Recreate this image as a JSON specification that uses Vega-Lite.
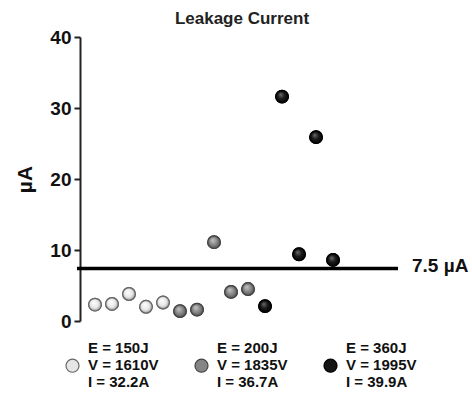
{
  "$schema": "https://vega.github.io/schema/vega-lite/v6.json",
  "width": 318,
  "height": 284,
  "autosize": "none",
  "padding": {"left": 80, "top": 37, "right": 74, "bottom": 73},
  "background": "white",
  "title": {"text": "Leakage Current", "font": "Liberation Sans", "fontSize": 17, "fontWeight": "bold", "color": "#222", "anchor": "middle", "offset": 0, "dx": 3},
  "config": {"view": {"stroke": null}},
  "datasets": {
    "pts": [
      {"idx": 1, "value": 2.3, "group": "E = 150J|V = 1610V|I = 32.2A"},
      {"idx": 2, "value": 2.4, "group": "E = 150J|V = 1610V|I = 32.2A"},
      {"idx": 3, "value": 3.8, "group": "E = 150J|V = 1610V|I = 32.2A"},
      {"idx": 4, "value": 2.0, "group": "E = 150J|V = 1610V|I = 32.2A"},
      {"idx": 5, "value": 2.6, "group": "E = 150J|V = 1610V|I = 32.2A"},
      {"idx": 6, "value": 1.4, "group": "E = 200J|V = 1835V|I = 36.7A"},
      {"idx": 7, "value": 1.6, "group": "E = 200J|V = 1835V|I = 36.7A"},
      {"idx": 8, "value": 11.1, "group": "E = 200J|V = 1835V|I = 36.7A"},
      {"idx": 9, "value": 4.1, "group": "E = 200J|V = 1835V|I = 36.7A"},
      {"idx": 10, "value": 4.5, "group": "E = 200J|V = 1835V|I = 36.7A"},
      {"idx": 11, "value": 2.1, "group": "E = 360J|V = 1995V|I = 39.9A"},
      {"idx": 12, "value": 31.6, "group": "E = 360J|V = 1995V|I = 39.9A"},
      {"idx": 13, "value": 9.4, "group": "E = 360J|V = 1995V|I = 39.9A"},
      {"idx": 14, "value": 25.9, "group": "E = 360J|V = 1995V|I = 39.9A"},
      {"idx": 15, "value": 8.6, "group": "E = 360J|V = 1995V|I = 39.9A"}
    ],
    "thr": [{"x0": -0.06, "x1": 18.82, "value": 7.4, "label": "7.5 µA"}]
  },
  "encoding": {
    "x": {"type": "quantitative", "scale": {"domain": [0.118, 18.82], "nice": false, "zero": false}, "axis": null},
    "y": {"type": "quantitative", "scale": {"domain": [0, 40], "nice": false}}
  },
  "layer": [
    {
      "data": {"name": "thr"},
      "mark": {"type": "rule", "strokeWidth": 3.5, "color": "#000", "clip": false},
      "encoding": {
        "x": {"field": "x0", "type": "quantitative"},
        "x2": {"field": "x1"},
        "y": {"field": "value", "type": "quantitative"}
      }
    },
    {
      "data": {"name": "thr"},
      "mark": {"type": "text", "align": "left", "baseline": "middle", "dx": 14, "dy": -2, "font": "Liberation Sans", "fontSize": 19, "fontWeight": "bold", "color": "#111", "clip": false},
      "encoding": {
        "x": {"field": "x1", "type": "quantitative"},
        "y": {"field": "value", "type": "quantitative"},
        "text": {"field": "label"}
      }
    },
    {
      "data": {"name": "pts"},
      "mark": {"type": "point", "shape": "circle", "filled": true, "size": 160, "strokeWidth": 1.2, "opacity": 1},
      "encoding": {
        "x": {"field": "idx", "type": "quantitative"},
        "y": {
          "field": "value", "type": "quantitative",
          "axis": {
            "values": [0, 10, 20, 30, 40],
            "title": "µA", "titleFont": "Liberation Sans", "titleFontSize": 21, "titleFontWeight": "bold", "titleColor": "#111", "titlePadding": 14,
            "labelFont": "Liberation Sans", "labelFontSize": 19, "labelFontWeight": "bold", "labelColor": "#111", "labelPadding": 3,
            "tickSize": 6, "tickWidth": 2, "tickColor": "#222", "domainWidth": 2, "domainColor": "#222", "grid": false
          }
        },
        "fill": {
          "field": "group", "type": "nominal",
          "scale": {"range": ["#e6e6e6", "#858585", "#151515"]},
          "legend": {
            "title": null, "orient": "none", "direction": "horizontal", "columns": 3,
            "legendX": -15, "legendY": 303,
            "symbolType": "M -1,2.76 A 1,1 0 1,0 1,2.76 A 1,1 0 1,0 -1,2.76 Z",
            "symbolSize": 170, "symbolStrokeWidth": 1.2,
            "labelExpr": "split(datum.label, '|')",
            "labelFont": "Liberation Sans", "labelFontSize": 15, "labelFontWeight": "bold", "labelColor": "#111",
            "labelLineHeight": 18, "labelOffset": 8, "labelLimit": 200,
            "columnPadding": 33,
            "encode": {
              "symbols": {"update": {"fill": [
                {"test": "indexof(datum.value, '150J') >= 0", "value": {"gradient": "radial", "x1": 0.38, "y1": 0.32, "r1": 0, "x2": 0.5, "y2": 0.5, "r2": 0.55, "stops": [{"offset": 0, "color": "#ffffff"}, {"offset": 0.6, "color": "#e8e8e8"}, {"offset": 1, "color": "#8a8a8a"}]}},
                {"test": "indexof(datum.value, '200J') >= 0", "value": {"gradient": "radial", "x1": 0.38, "y1": 0.32, "r1": 0, "x2": 0.5, "y2": 0.5, "r2": 0.55, "stops": [{"offset": 0, "color": "#c8c8c8"}, {"offset": 0.55, "color": "#878787"}, {"offset": 1, "color": "#4a4a4a"}]}},
                {"value": {"gradient": "radial", "x1": 0.38, "y1": 0.32, "r1": 0, "x2": 0.5, "y2": 0.5, "r2": 0.55, "stops": [{"offset": 0, "color": "#707070"}, {"offset": 0.5, "color": "#1a1a1a"}, {"offset": 1, "color": "#000000"}]}}
              ]}}}
          }
        },
        "stroke": {
          "field": "group", "type": "nominal",
          "scale": {"range": ["#666", "#444", "#000"]},
          "legend": null
        }
      }
    },
    {
      "data": {"name": "pts"},
      "transform": [{"filter": "indexof(datum.group, '150J') >= 0"}],
      "mark": {"type": "point", "shape": "circle", "filled": true, "size": 160, "strokeWidth": 1.2, "stroke": "#666", "opacity": 1,
        "fill": {"gradient": "radial", "x1": 0.38, "y1": 0.32, "r1": 0, "x2": 0.5, "y2": 0.5, "r2": 0.55, "stops": [{"offset": 0, "color": "#ffffff"}, {"offset": 0.6, "color": "#e8e8e8"}, {"offset": 1, "color": "#8a8a8a"}]}},
      "encoding": {
        "x": {"field": "idx", "type": "quantitative"},
        "y": {"field": "value", "type": "quantitative"}
      }
    },
    {
      "data": {"name": "pts"},
      "transform": [{"filter": "indexof(datum.group, '200J') >= 0"}],
      "mark": {"type": "point", "shape": "circle", "filled": true, "size": 160, "strokeWidth": 1.2, "stroke": "#444", "opacity": 1,
        "fill": {"gradient": "radial", "x1": 0.38, "y1": 0.32, "r1": 0, "x2": 0.5, "y2": 0.5, "r2": 0.55, "stops": [{"offset": 0, "color": "#c8c8c8"}, {"offset": 0.55, "color": "#878787"}, {"offset": 1, "color": "#4a4a4a"}]}},
      "encoding": {
        "x": {"field": "idx", "type": "quantitative"},
        "y": {"field": "value", "type": "quantitative"}
      }
    },
    {
      "data": {"name": "pts"},
      "transform": [{"filter": "indexof(datum.group, '360J') >= 0"}],
      "mark": {"type": "point", "shape": "circle", "filled": true, "size": 160, "strokeWidth": 1.2, "stroke": "#000", "opacity": 1,
        "fill": {"gradient": "radial", "x1": 0.38, "y1": 0.32, "r1": 0, "x2": 0.5, "y2": 0.5, "r2": 0.55, "stops": [{"offset": 0, "color": "#707070"}, {"offset": 0.5, "color": "#1a1a1a"}, {"offset": 1, "color": "#000000"}]}},
      "encoding": {
        "x": {"field": "idx", "type": "quantitative"},
        "y": {"field": "value", "type": "quantitative"}
      }
    }
  ]
}
